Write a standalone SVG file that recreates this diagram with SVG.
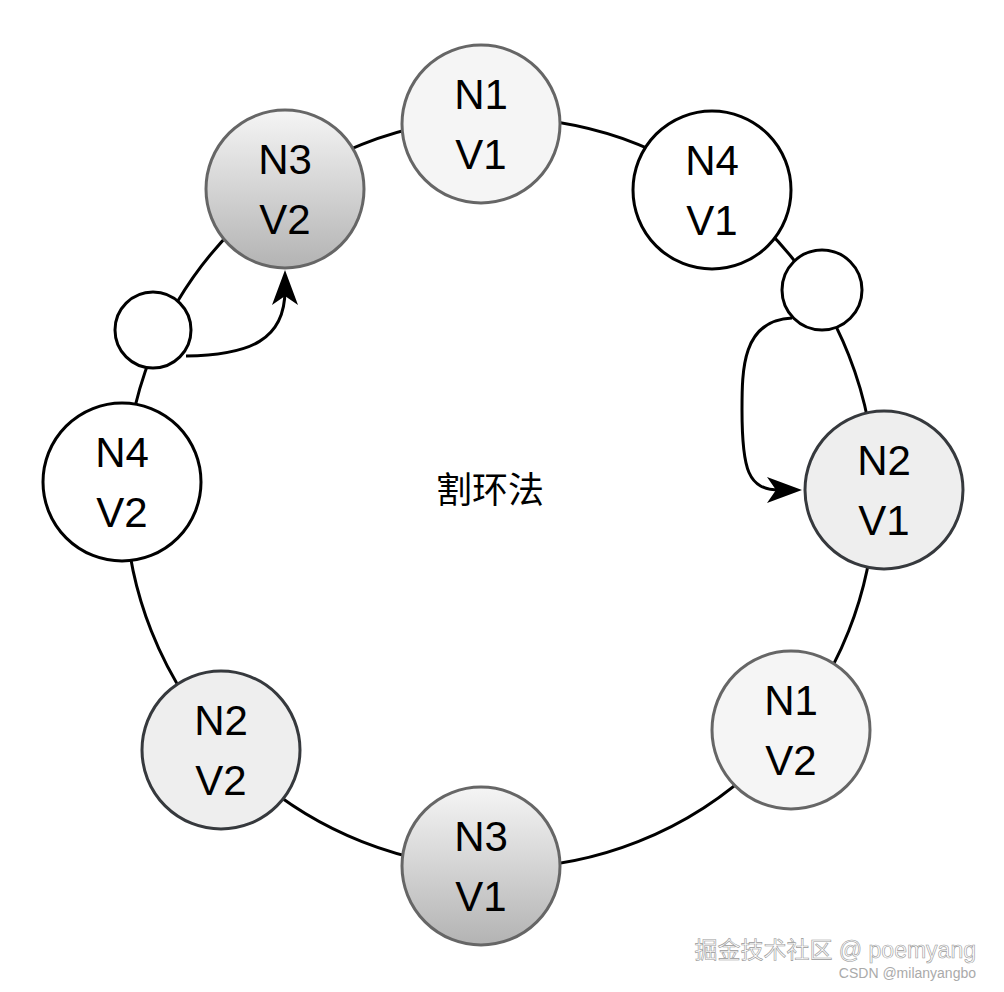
<svg xmlns="http://www.w3.org/2000/svg" width="1004" height="992" viewBox="0 0 1004 992">
<defs>
<linearGradient id="g" x1="0" y1="0" x2="0" y2="1"><stop offset="0" stop-color="#f5f5f5"/><stop offset="1" stop-color="#b3b3b3"/></linearGradient>
<marker id="ah" viewBox="0 0 10 10" refX="9" refY="5" markerWidth="8" markerHeight="8" markerUnits="userSpaceOnUse" orient="auto" style="overflow:visible"><path d="M0,0 L32,15 L0,30 L8,15 Z" fill="#000" transform="translate(-22,-10)"/></marker>
<style>
.n{stroke-width:3}
.t{font-family:"Liberation Sans",Arial,sans-serif;font-size:42px;text-anchor:middle;fill:#000}
.c1{fill:#f5f5f5;stroke:#666}
.c3{fill:url(#g);stroke:#666}
.c2{fill:#eeeeee;stroke:#36393d}
.c4{fill:#fff;stroke:#000}
</style>
</defs>
<rect width="1004" height="992" fill="#fff"/>
<g id="ring"><circle cx="500" cy="493" r="375" fill="none" stroke="#000" stroke-width="3"/></g>
<g id="connectors" fill="none" stroke="#000" stroke-width="3">
<path d="M186,356 C250,355 285,340 285,290"/>
<path d="M285,270 L272,305 L285,296 L298,305 Z" fill="#000" stroke="none"/>
<path d="M792,318 C742,320 742,370 742,410 C742,470 748,490 780,490"/>
<path d="M802,490 L767,477 L776,490 L767,503 Z" fill="#000" stroke="none"/>
</g>
<g id="s1"><circle class="n c4" cx="153" cy="330" r="38"/></g>
<g id="s2"><circle class="n c4" cx="822" cy="290" r="40"/></g>
<g id="n1v1"><circle class="n c1" cx="481" cy="124" r="79"/><text class="t" x="481" y="109">N1</text><text class="t" x="481" y="169">V1</text></g>
<g id="n3v2"><circle class="n c3" cx="285" cy="189" r="79"/><text class="t" x="285" y="174">N3</text><text class="t" x="285" y="234">V2</text></g>
<g id="n4v1"><circle class="n c4" cx="712" cy="190" r="79"/><text class="t" x="712" y="175">N4</text><text class="t" x="712" y="235">V1</text></g>
<g id="n4v2"><circle class="n c4" cx="122" cy="482" r="79"/><text class="t" x="122" y="467">N4</text><text class="t" x="122" y="527">V2</text></g>
<g id="n2v1"><circle class="n c2" cx="884" cy="490" r="79"/><text class="t" x="884" y="475">N2</text><text class="t" x="884" y="535">V1</text></g>
<g id="n1v2"><circle class="n c1" cx="791" cy="730" r="79"/><text class="t" x="791" y="715">N1</text><text class="t" x="791" y="775">V2</text></g>
<g id="n2v2"><circle class="n c2" cx="221" cy="750" r="79"/><text class="t" x="221" y="735">N2</text><text class="t" x="221" y="795">V2</text></g>
<g id="n3v1"><circle class="n c3" cx="481" cy="866" r="79"/><text class="t" x="481" y="851">N3</text><text class="t" x="481" y="911">V1</text></g>
<text x="490" y="503" font-family="'Noto Sans CJK SC',sans-serif" font-size="36" text-anchor="middle">割环法</text>
<text x="976" y="958" font-family="'Liberation Sans','Noto Sans CJK SC',sans-serif" font-size="23" text-anchor="end" fill="#fff" stroke="#999" stroke-width="0.6">掘金技术社区 @ poemyang</text>
<text x="976" y="978" font-family="'Liberation Sans',sans-serif" font-size="14" text-anchor="end" fill="#aaa">CSDN @milanyangbo</text>
</svg>
